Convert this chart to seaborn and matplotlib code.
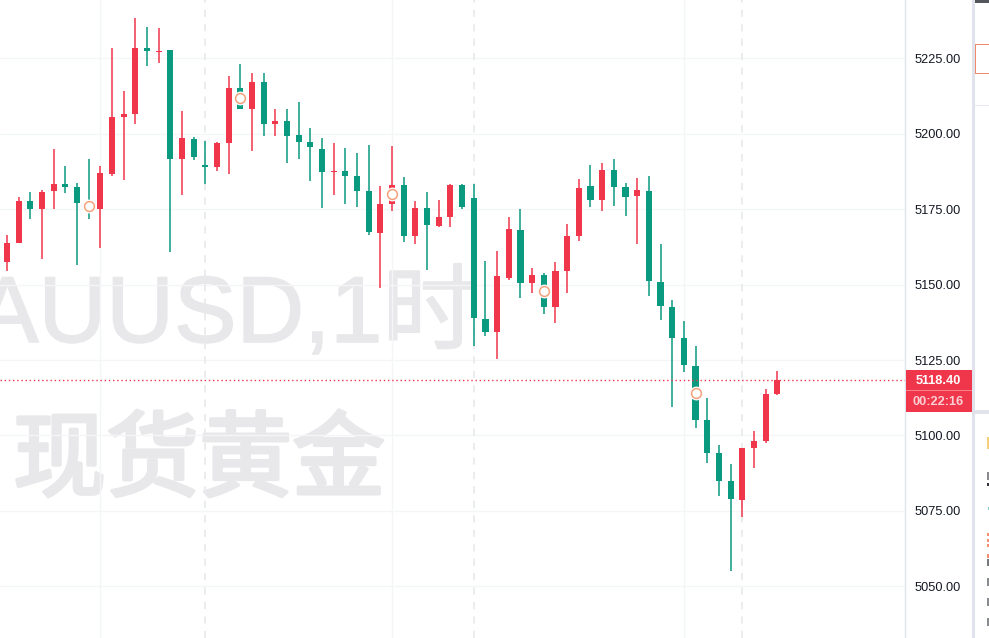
import numpy as np
import pandas as pd
import seaborn as sns
import matplotlib.pyplot as plt
import matplotlib.patheffects as pe
from matplotlib.patches import Rectangle

# 1h candles
highs = [5166.5, 5179.1, 5180.7, 5181.4, 5195.0, 5189.3, 5183.7, 5191.7, 5189.3, 5228.5,
         5214.2, 5238.4, 5235.4, 5235.1, 5227.8, 5207.6, 5199.0, 5197.6, 5197.3, 5219.2,
         5223.2, 5220.2, 5220.2, 5208.2, 5208.2, 5210.6, 5201.9, 5198.6, 5197.0, 5195.3,
         5193.7, 5196.3, 5182.7, 5196.0, 5185.7, 5177.8, 5180.7, 5178.1, 5183.4, 5183.4,
         5183.4, 5157.9, 5161.2, 5172.4, 5175.1, 5155.5, 5153.9, 5157.5, 5170.1, 5185.0,
         5189.7, 5190.4, 5191.7, 5183.7, 5185.4, 5186.0, 5163.5, 5144.9, 5137.9, 5129.6,
         5112.4, 5096.8, 5090.5, 5095.8, 5101.4, 5115.3, 5121.3]
body_top = [5163.8, 5177.7, 5177.7, 5180.7, 5183.4, 5183.4, 5182.4, 5177.1, 5187.0, 5205.6,
            5206.6, 5228.5, 5228.5, 5227.5, 5227.8, 5198.6, 5198.3, 5189.7, 5197.0, 5215.2,
            5215.2, 5217.2, 5217.2, 5204.3, 5204.3, 5199.6, 5197.3, 5195.0, 5187.7, 5187.7,
            5186.0, 5181.1, 5176.8, 5183.1, 5183.1, 5175.4, 5175.4, 5172.4, 5183.1, 5183.1,
            5178.7, 5138.6, 5152.9, 5168.5, 5168.1, 5153.2, 5153.2, 5154.5, 5166.1, 5182.1,
            5182.7, 5188.0, 5188.0, 5182.4, 5181.4, 5181.1, 5150.9, 5142.5, 5132.3, 5123.0,
            5105.1, 5094.1, 5084.8, 5095.8, 5098.1, 5113.7, 5118.4]
body_bot = [5157.5, 5163.8, 5175.1, 5175.1, 5181.0, 5182.4, 5177.1, 5175.1, 5175.1, 5186.7,
            5205.6, 5206.6, 5227.5, 5227.2, 5191.7, 5191.7, 5192.3, 5189.0, 5189.0, 5197.0,
            5208.2, 5208.2, 5203.3, 5203.3, 5199.3, 5197.3, 5195.6, 5187.4, 5187.4, 5186.0,
            5181.1, 5167.5, 5167.1, 5176.8, 5166.1, 5166.1, 5169.8, 5169.5, 5172.4, 5175.8,
            5138.9, 5134.3, 5134.3, 5152.2, 5150.6, 5150.6, 5142.6, 5142.6, 5154.5, 5166.1,
            5178.1, 5178.1, 5182.4, 5179.1, 5179.4, 5151.2, 5142.9, 5132.3, 5123.3, 5105.1,
            5094.1, 5084.8, 5078.9, 5078.5, 5095.8, 5098.1, 5113.7]
lows = [5154.5, 5163.8, 5171.8, 5158.5, 5175.1, 5180.4, 5156.5, 5171.8, 5162.1, 5186.0,
        5184.7, 5203.3, 5222.5, 5223.5, 5160.8, 5179.7, 5191.3, 5183.4, 5187.7, 5186.7,
        5208.2, 5194.3, 5199.3, 5199.3, 5190.3, 5191.7, 5184.4, 5175.4, 5179.7, 5176.8,
        5175.8, 5166.5, 5148.9, 5174.4, 5164.2, 5163.5, 5154.9, 5169.1, 5169.1, 5175.1,
        5129.7, 5133.0, 5125.3, 5151.5, 5145.6, 5147.2, 5140.3, 5137.3, 5147.2, 5164.5,
        5175.8, 5174.4, 5176.1, 5172.8, 5163.5, 5146.2, 5138.3, 5109.4, 5121.0, 5102.4,
        5090.8, 5079.9, 5055.0, 5072.9, 5089.1, 5097.4, 5113.4]
# red candles close up, the rest are green
red_idx = [0, 1, 3, 4, 8, 9, 10, 11, 13, 15, 18, 19, 21, 23, 28, 32, 33, 35, 37, 38,
           42, 43, 45, 47, 48, 49, 51, 54, 63, 64, 65, 66]

price_ticks = [5050, 5075, 5100, 5125, 5150, 5175, 5200, 5225]
last_price = 5118.40
countdown = "00:22:16"
solid_lines = [8, 33, 58]
dashed_lines = [17, 40, 63]
marker_idx = [7, 20, 33, 46, 59]
marker_price = [5176.1, 5211.8, 5180.0, 5147.9, 5114.1]

RED = "#f0364a"
GREEN = "#0a9a80"
WATERMARK = "#e8e8ea"
W, H = 989, 638

sns.set_theme(style="white")
plt.rcParams['font.family'] = ['Liberation Sans', 'Noto Sans CJK SC', 'DejaVu Sans']

df = pd.DataFrame({"idx": np.arange(len(highs)), "high": highs, "top": body_top,
                   "bot": body_bot, "low": lows})
df["height"] = (df["top"] - df["bot"]).clip(lower=0.35)
df["rising"] = df["idx"].isin(red_idx)

fig = plt.figure(figsize=(W / 100, H / 100), dpi=100, facecolor="white")
ax = fig.add_axes([0, 0, 905 / W, 1])


def box(x, y, w, h, color):
    # rectangle in picture pixels, y from the top
    fig.add_artist(Rectangle((x / W, 1 - (y + h) / H), w / W, h / H, color=color, lw=0))


# watermark, stroked because the installed weights are thinner than the original
ax.text(-24 / 905, 1 - 342 / H, "AUUSD,1时", transform=ax.transAxes, fontsize=67.5,
        color=WATERMARK, va="baseline", ha="left", zorder=0,
        path_effects=[pe.withStroke(linewidth=1.2, foreground=WATERMARK)])
ax.text(13 / 905, 1 - 489 / H, "现货黄金", transform=ax.transAxes, fontsize=67,
        color=WATERMARK, family=['Noto Sans CJK SC', 'DejaVu Sans'],
        va="baseline", ha="left", zorder=0,
        path_effects=[pe.withStroke(linewidth=2.6, foreground=WATERMARK)])

# grid
for p in price_ticks:
    ax.axhline(p, color="#f4f5f7", lw=1, zorder=1)
for i in solid_lines:
    ax.axvline(i, color="#f4f5f7", lw=1, zorder=1)
for i in dashed_lines:
    ax.axvline(i, color="#e9eaed", lw=1.3, ls=(0, (4, 4)), zorder=1)

# candles
for rising, color in [(True, RED), (False, GREEN)]:
    part = df[df["rising"] == rising]
    ax.vlines(part["idx"], part["low"], part["high"], color=color, lw=1.1, zorder=3)
    sns.barplot(data=part, x="idx", y="height", bottom=part["bot"].values, color=color,
                saturation=1, width=0.52, native_scale=True, errorbar=None, ax=ax,
                linewidth=0, zorder=4)

# last price line
ax.axhline(last_price, color=RED, lw=1, ls=(0, (1, 2)), zorder=5)

# event markers
sns.scatterplot(x=marker_idx, y=marker_price, s=100, color="white", linewidth=0, ax=ax, zorder=6)
sns.scatterplot(x=marker_idx, y=marker_price, s=50, color="white", edgecolor="#f3a27c",
                linewidth=1.1, ax=ax, zorder=7)

ax.set_xlim(-0.6, 76.95)
ax.set_ylim(5032.8, 5244.4)
ax.set_xlabel("")
ax.set_ylabel("")
ax.set_xticks([])
ax.yaxis.tick_right()
ax.set_yticks(price_ticks)
ax.set_yticklabels(["%.2f" % p for p in price_ticks], fontsize=9.2, color="#131722")
ax.tick_params(axis="y", length=0, pad=7)
for name, spine in ax.spines.items():
    spine.set_visible(name == "right")
ax.spines["right"].set_color("#e0e3eb")
ax.spines["right"].set_linewidth(1)

# price label on the scale
box(905.5, 369.5, 66, 42, RED)
box(905.5, 390, 66, 0.8, "#f7808b")
fig.text(938 / W, 1 - 381 / H, "%.2f" % last_price, color="white", fontsize=9.2,
         fontweight="bold", ha="center", va="center")
fig.text(938 / W, 1 - 402 / H, countdown, color="#fbd0d5", fontsize=9.2,
         fontweight="bold", ha="center", va="center")

# side panel at the right edge, mostly cut off in the reference
box(971.5, 0, 3.5, H, "#e0e3eb")
box(975, 0, 14, 3, "#55565c")
box(975, 44, 14, 29.5, "#f08a6c")
box(976, 45, 13, 27.5, "white")
box(975, 105, 14, 1, "#e8e9ee")
box(975, 410, 14, 3.5, "#e0e3eb")
box(987, 437, 2, 12, "#f4cf7a")
box(987, 472, 2, 8, "#8a8a8e")
box(987, 483, 2, 3, "#33343a")
box(987.5, 507, 1.5, 3, "#7fcfc4")
box(987, 533, 2, 3, "#f0906e")
box(987, 539, 2, 3, "#f0906e")
box(987, 544, 2, 3, "#f0906e")
box(987, 554, 2, 4, "#f0906e")
box(987, 559, 2, 7, "#77787c")
box(987, 578, 2, 8, "#8a8b8f")
box(987, 598, 2, 8, "#8a8b8f")
box(987, 618, 2, 8, "#8a8b8f")

fig.savefig("out.png", dpi=100)
